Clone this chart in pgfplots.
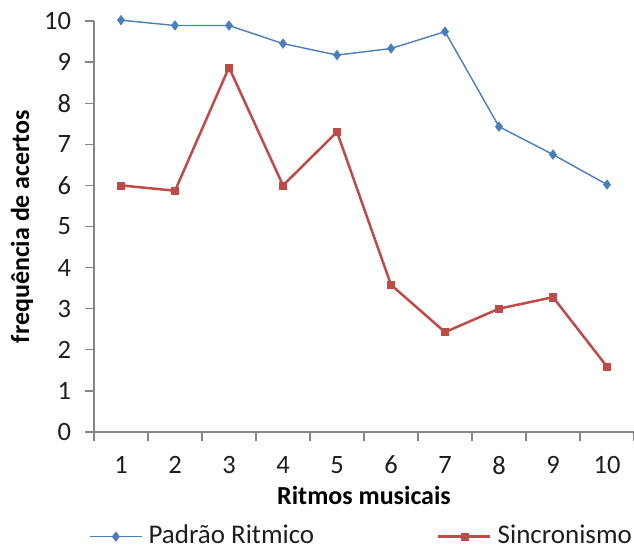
\documentclass[border=0pt]{standalone}
\usepackage{fontspec}
\setmainfont{Carlito}
\usepackage{pgfplots}
\pgfplotsset{compat=1.18}
\definecolor{cblue}{HTML}{4A7EBB}
\definecolor{cred}{HTML}{BE4B48}
\definecolor{axgray}{HTML}{868686}
\definecolor{txt}{HTML}{1E1E1E}
\begin{document}
\fontsize{26.5bp}{31bp}\selectfont
\begin{tikzpicture}
\begin{axis}[
  scale only axis, width=540bp, height=411bp,
  xmin=0.5, xmax=10.5, ymin=0, ymax=10,
  clip=false,
  axis x line=bottom, axis y line=left,
  axis line style={-, axgray, line width=1.3bp},
  tick align=outside,
  major tick length=9bp,
  tick style={axgray, line width=1.3bp},
  xtick={0.5,1.5,2.5,3.5,4.5,5.5,6.5,7.5,8.5,9.5,10.5},
  xticklabels={},
  extra x ticks={1,2,3,4,5,6,7,8,9,10},
  extra x tick style={major tick length=0pt},
  ytick={0,1,2,3,4,5,6,7,8,9,10},
  /pgf/number format/assume math mode=true,
  ticklabel style={font=\fontsize{26.5bp}{31bp}\selectfont, text=txt},
  xticklabel style={yshift=-15bp},
  yticklabel style={xshift=-5bp},
  xlabel={\textbf{Ritmos musicais}},
  ylabel={\textbf{frequência de acertos}},
  label style={font=\fontsize{26bp}{31bp}\selectfont, text=black},
  xlabel style={at={(axis description cs:0.5,-0.1533)}, anchor=center},
  ylabel style={at={(axis description cs:-0.1333,0.5)}, anchor=center},
  legend columns=2,
  legend style={at={(axis description cs:-0.009,-0.2545)}, anchor=west, draw=none, fill=none,
    inner sep=0pt, outer sep=0pt,
    font=\fontsize{27bp}{31bp}\selectfont, text=txt,
    nodes={inner ysep=1bp},
    /tikz/every odd column/.style={column sep=4bp},
    /tikz/every even column/.style={column sep=121bp}},
  legend image code/.code={\draw[#1,mark repeat=2,mark phase=2] plot coordinates {(0bp,0bp)(26bp,0bp)(52bp,0bp)};},
]
\addplot[cblue, line width=1.4bp, mark=diamond*, mark size=4.8bp, mark options={fill=cblue, draw=cblue, line width=0.5bp}]
  coordinates {(1,10.02)(2,9.89)(3,9.89)(4,9.45)(5,9.17)(6,9.33)(7,9.74)(8,7.43)(9,6.75)(10,6.02)};
\addlegendentry{Padrão Ritmico}
\addplot[cred, line width=2.5bp, mark=square*, mark size=3.6bp, mark options={fill=cred, draw=cred, line width=0.5bp}]
  coordinates {(1,6.0)(2,5.87)(3,8.87)(4,6.0)(5,7.3)(6,3.58)(7,2.43)(8,3.0)(9,3.28)(10,1.59)};
\addlegendentry{Sincronismo}
\end{axis}
\pgfresetboundingbox
\path[use as bounding box] (-94bp,-119bp) rectangle (540bp,432bp);
\end{tikzpicture}
\end{document}
